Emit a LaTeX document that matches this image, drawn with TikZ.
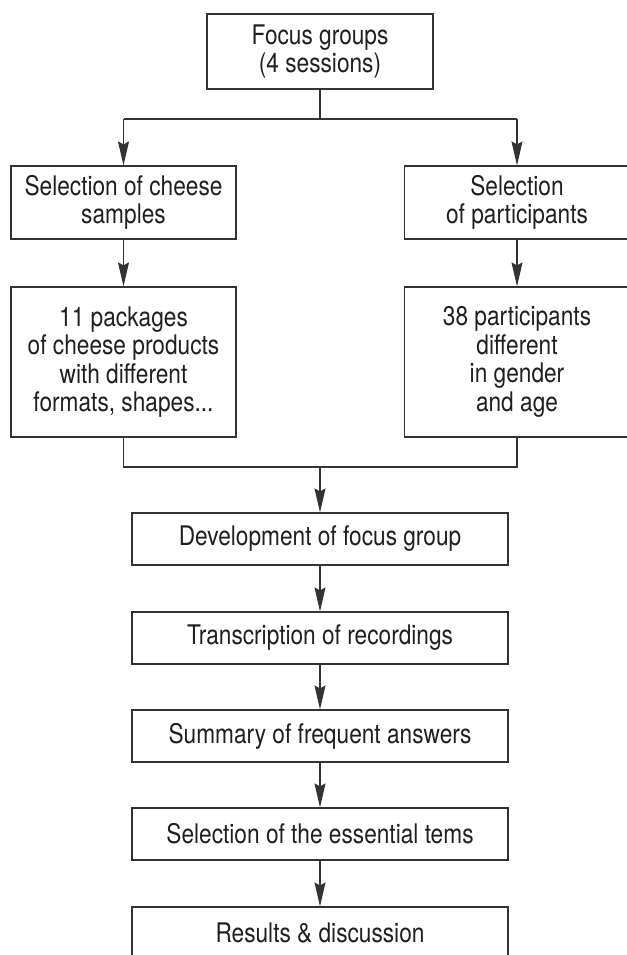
\documentclass[tikz,border=0pt]{standalone}
\usepackage{fontspec}
\setmainfont{TeX Gyre Heros}[FakeStretch=0.84]
\usetikzlibrary{arrows.meta}

\begin{document}
\begin{tikzpicture}[x=1pt,y=-1pt,
  box/.style={draw=black!80,line width=1.2pt,align=center,inner sep=0pt,
    font=\fontsize{27}{28.5}\selectfont,text=black!88},
  smallbox/.style={box,minimum width=225pt,minimum height=73pt},
  tallbox/.style={box,minimum width=225pt,minimum height=150pt},
  stepbox/.style={box,minimum width=376pt,minimum height=52pt},
  line/.style={draw=black!80,line width=1.1pt},
  arrow/.style={line,-{Stealth[length=24pt,width=11pt,inset=3pt]}}]
\useasboundingbox (0,0) rectangle (626,955);
\node[box,minimum width=226pt,minimum height=75pt] (focus) at (320,51.5) {Focus groups\\(4 sessions)};
\node[smallbox] (cheese) at (123.5,202.5) {Selection of cheese\\samples};
\node[smallbox] (partsel) at (517,202.5) {Selection\\of participants};
\node[tallbox] (packages) at (123.5,362) {11 packages\\of cheese products\\with different\\formats, shapes...};
\node[tallbox] (people) at (517,362) {38 participants\\different\\in gender\\and age};
\node[stepbox] (develop) at (320,539) {Development of focus group};
\node[stepbox] (transcr) at (320,638) {Transcription of recordings};
\node[stepbox] (summary) at (320,736) {Summary of frequent answers};
\node[stepbox] (items) at (320,834) {Selection of the essential tems};
\node[stepbox] (results) at (320,933) {Results \& discussion};
\coordinate (split) at (320,119);
\coordinate (merge) at (320,467);
% split to the two branches
\draw[line] (focus.south) -- (split);
\draw[line] (cheese.north |- split) -- (partsel.north |- split);
\draw[arrow] (cheese.north |- split) -- (cheese.north);
\draw[arrow] (partsel.north |- split) -- (partsel.north);
\draw[arrow] (cheese) -- (packages);
\draw[arrow] (partsel) -- (people);
% merge
\draw[line] (packages.south) -- (packages.south |- merge) -- (people.south |- merge) -- (people.south);
\draw[arrow] (merge) -- (develop.north);
\draw[arrow] (develop) -- (transcr);
\draw[arrow] (transcr) -- (summary);
\draw[arrow] (summary) -- (items);
\draw[arrow] (items) -- (results);
\end{tikzpicture}
\end{document}
